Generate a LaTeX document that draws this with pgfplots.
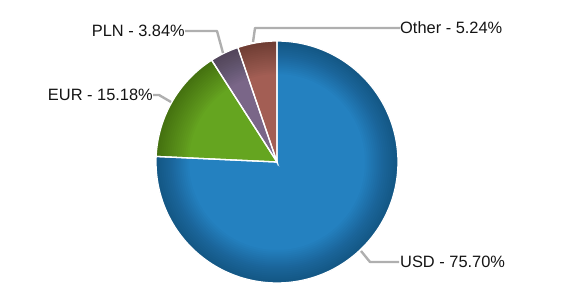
\documentclass[border=0pt]{standalone}
\usepackage{pgfplots}
\pgfplotsset{compat=1.18}
\usepackage{pgfplotstable}
\usepackage{fontspec}
\setmainfont{Liberation Sans}
\definecolor{cUSD}{RGB}{36,129,192}
\definecolor{cEUR}{RGB}{101,165,32}
\definecolor{cPLN}{RGB}{122,102,136}
\definecolor{cOther}{RGB}{163,94,84}
\definecolor{cLead}{RGB}{175,175,175}
\definecolor{cText}{RGB}{20,20,20}
\pgfplotstableread{
cur pct
USD 75.70
EUR 15.18
PLN 3.84
Other 5.24
}\piedata
\begin{document}
\begin{tikzpicture}
\pgfplotstablegetelem{0}{pct}\of\piedata \let\pA\pgfplotsretval
\pgfplotstablegetelem{1}{pct}\of\piedata \let\pB\pgfplotsretval
\pgfplotstablegetelem{2}{pct}\of\piedata \let\pC\pgfplotsretval
\pgfplotstablegetelem{3}{pct}\of\piedata \let\pD\pgfplotsretval
\pgfmathsetmacro\tot{\pA+\pB+\pC+\pD}
\pgfmathsetmacro\aA{90}
\pgfmathsetmacro\aB{\aA-\pA/\tot*360}
\pgfmathsetmacro\aC{\aB-\pB/\tot*360}
\pgfmathsetmacro\aD{\aC-\pC/\tot*360}
\pgfmathsetmacro\aE{\aD-\pD/\tot*360}
\begin{axis}[
  scale only axis, width=571bp, height=289bp,
  xmin=0, xmax=571, ymin=0, ymax=289,
  hide axis, clip=false, enlargelimits=false,
  variable=\t,
]
\path (axis cs:0,0) (axis cs:571,289);
% slices
\addplot[draw=none, fill=cUSD, domain=\aB:\aA, samples=150] ({277+121*cos(\t)},{127+121*sin(\t)}) -- (axis cs:277,127) -- cycle;
\addplot[draw=none, fill=cEUR, domain=\aC:\aB, samples=40] ({277+121*cos(\t)},{127+121*sin(\t)}) -- (axis cs:277,127) -- cycle;
\addplot[draw=none, fill=cPLN, domain=\aD:\aC, samples=15] ({277+121*cos(\t)},{127+121*sin(\t)}) -- (axis cs:277,127) -- cycle;
\addplot[draw=none, fill=cOther, domain=\aE:\aD, samples=20] ({277+121*cos(\t)},{127+121*sin(\t)}) -- (axis cs:277,127) -- cycle;
% rim shading (stacked translucent rings)
\pgfplotsinvokeforeach{88,90,92,94,96,98,100,102,104,106,108,110,112,114,116,118}{
  \fill[black, fill opacity=0.021, even odd rule] (axis cs:277,127) circle[radius=121bp] (axis cs:277,127) circle[radius=#1bp];
}
% white borders
\addplot[draw=white, line width=1.3bp, fill=none, domain=\aB:\aA, samples=150] ({277+121*cos(\t)},{127+121*sin(\t)}) -- (axis cs:277,127) -- cycle;
\addplot[draw=white, line width=1.3bp, fill=none, domain=\aC:\aB, samples=40] ({277+121*cos(\t)},{127+121*sin(\t)}) -- (axis cs:277,127) -- cycle;
\addplot[draw=white, line width=1.3bp, fill=none, domain=\aD:\aC, samples=15] ({277+121*cos(\t)},{127+121*sin(\t)}) -- (axis cs:277,127) -- cycle;
\addplot[draw=white, line width=1.3bp, fill=none, domain=\aE:\aD, samples=20] ({277+121*cos(\t)},{127+121*sin(\t)}) -- (axis cs:277,127) -- cycle;
% leader lines
\draw[cLead, line width=2.4bp, line join=round] (axis cs:253,247) -- (axis cs:255,261) -- (axis cs:400,261);
\draw[cLead, line width=2.4bp, line join=round] (axis cs:223,236) -- (axis cs:217,258) -- (axis cs:185,258);
\draw[cLead, line width=2.4bp, line join=round] (axis cs:171,187) -- (axis cs:159,194) -- (axis cs:153,194);
\draw[cLead, line width=2.4bp, line join=round] (axis cs:361,38) -- (axis cs:370,27) -- (axis cs:399,27);
% labels
\node[anchor=west, inner sep=0pt, text=cText, font=\fontsize{16.4bp}{19bp}\selectfont] at (axis cs:400,261) {Other - 5.24\%};
\node[anchor=east, inner sep=0pt, text=cText, font=\fontsize{16.4bp}{19bp}\selectfont] at (axis cs:185,258) {PLN - 3.84\%};
\node[anchor=east, inner sep=0pt, text=cText, font=\fontsize{16.4bp}{19bp}\selectfont] at (axis cs:153,194) {EUR - 15.18\%};
\node[anchor=west, inner sep=0pt, text=cText, font=\fontsize{16.4bp}{19bp}\selectfont] at (axis cs:400,27) {USD - 75.70\%};
\end{axis}
\end{tikzpicture}
\end{document}
